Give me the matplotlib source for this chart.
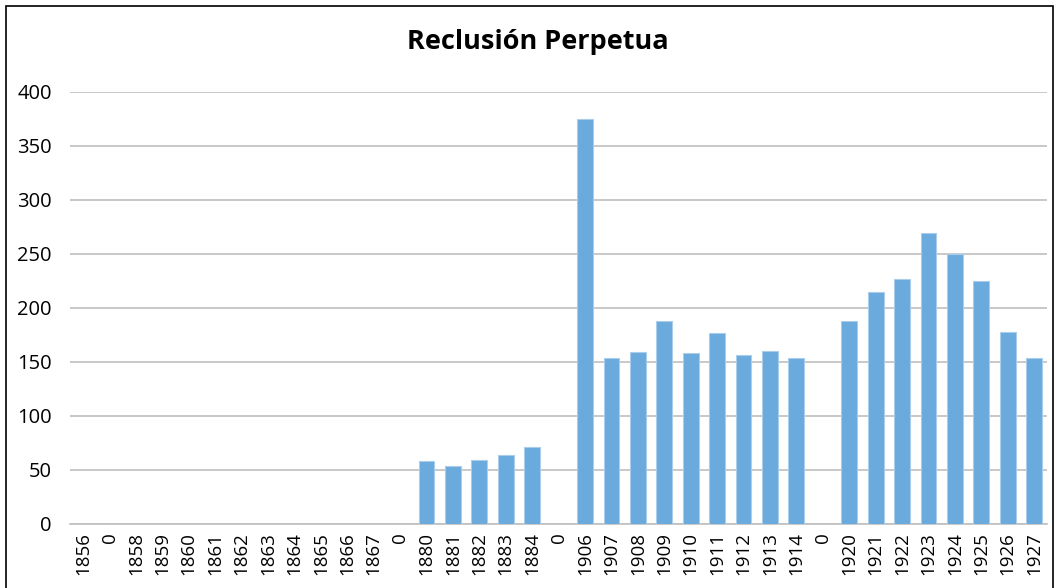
import matplotlib
matplotlib.use("Agg")
import matplotlib.pyplot as plt
import numpy as np

# categories as printed on the axis (gaps are labelled "0")
labels = ["1856", "0", "1858", "1859", "1860", "1861", "1862", "1863", "1864",
          "1865", "1866", "1867", "0", "1880", "1881", "1882", "1883", "1884",
          "0", "1906", "1907", "1908", "1909", "1910", "1911", "1912", "1913",
          "1914", "0", "1920", "1921", "1922", "1923", "1924", "1925", "1926",
          "1927"]
values = [0, 0, 0, 0, 0, 0, 0, 0, 0,
          0, 0, 0, 0, 58, 54, 59, 64, 71,
          0, 375, 154, 159, 188, 158, 177, 156, 160,
          154, 0, 188, 215, 227, 269, 250, 225, 178,
          154]
yticks = [0, 50, 100, 150, 200, 250, 300, 350, 400]

BAR_COLOR = "#6AAADC"
GRID_COLOR = "#BFBFBF"
plt.rcParams['font.family'] = ['Open Sans', 'DejaVu Sans']

fig = plt.figure(figsize=(10.59, 5.88), dpi=100)
ax = fig.add_axes([0.066, 0.109, 0.923, 0.735])

x = np.arange(len(labels))
ax.bar(x, values, width=0.6, color=BAR_COLOR, edgecolor="#A9CDEB", linewidth=0.8, zorder=3)

ax.set_xlim(-0.5, len(labels) - 0.5)
ax.set_ylim(0, 400)
ax.set_yticks(yticks)
ax.set_yticklabels([str(v) for v in yticks], fontsize=14.5)
ax.set_xticks(x)
ax.set_xticklabels(labels, rotation=90, fontsize=13.5)
ax.tick_params(axis="both", length=0, pad=6)
ax.tick_params(axis="y", pad=13)

ax.grid(axis="y", color=GRID_COLOR, linewidth=1.2, zorder=0)
for s in ["top", "right", "left"]:
    ax.spines[s].set_visible(False)
ax.spines["bottom"].set_color(GRID_COLOR)
ax.spines["bottom"].set_linewidth(1.2)

fig.text(0.508, 0.928, "Reclusión Perpetua", ha="center", va="center",
         fontsize=19.5, fontweight="bold")

# outer frame of the chart
fig.patches.append(plt.Rectangle((0.006, -0.01), 0.988, 1.0, transform=fig.transFigure,
                                 fill=False, edgecolor="black", linewidth=1.2))

fig.savefig("out.png", dpi=100)
